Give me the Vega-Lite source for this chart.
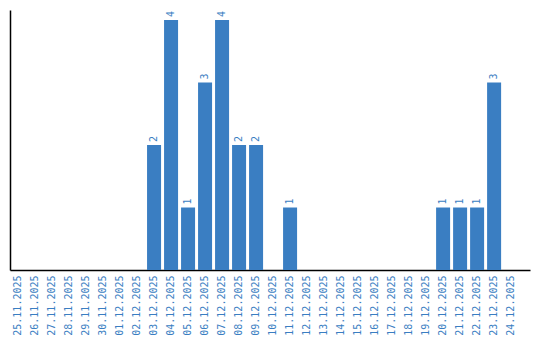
{
  "$schema": "https://vega.github.io/schema/vega-lite/v6.json",
  "autosize": {"type": "none"},
  "padding": {"left": 10, "top": 10, "right": 10, "bottom": 70},
  "width": 520,
  "height": 260,
  "background": "white",
  "data": {"values": [
    {"date": "25.11.2025", "v": 0},
    {"date": "26.11.2025", "v": 0},
    {"date": "27.11.2025", "v": 0},
    {"date": "28.11.2025", "v": 0},
    {"date": "29.11.2025", "v": 0},
    {"date": "30.11.2025", "v": 0},
    {"date": "01.12.2025", "v": 0},
    {"date": "02.12.2025", "v": 0},
    {"date": "03.12.2025", "v": 2},
    {"date": "04.12.2025", "v": 4},
    {"date": "05.12.2025", "v": 1},
    {"date": "06.12.2025", "v": 3},
    {"date": "07.12.2025", "v": 4},
    {"date": "08.12.2025", "v": 2},
    {"date": "09.12.2025", "v": 2},
    {"date": "10.12.2025", "v": 0},
    {"date": "11.12.2025", "v": 1},
    {"date": "12.12.2025", "v": 0},
    {"date": "13.12.2025", "v": 0},
    {"date": "14.12.2025", "v": 0},
    {"date": "15.12.2025", "v": 0},
    {"date": "16.12.2025", "v": 0},
    {"date": "17.12.2025", "v": 0},
    {"date": "18.12.2025", "v": 0},
    {"date": "19.12.2025", "v": 0},
    {"date": "20.12.2025", "v": 1},
    {"date": "21.12.2025", "v": 1},
    {"date": "22.12.2025", "v": 1},
    {"date": "23.12.2025", "v": 3},
    {"date": "24.12.2025", "v": 0}
  ]},
  "encoding": {
    "x": {
      "field": "date", "type": "nominal", "sort": null,
      "scale": {"paddingInner": 0.176, "paddingOuter": 0.38, "align": 0.08},
      "axis": {
        "title": null, "ticks": false, "labelAngle": 270, "labelAlign": "right", "labelBaseline": "middle",
        "labelPadding": 5, "labelFont": "DejaVu Sans Mono", "labelFontSize": 10, "labelColor": "#3a7ec2",
        "domainColor": "#000000", "domainWidth": 1.5, "grid": false
      }
    },
    "y": {
      "field": "v", "type": "quantitative",
      "scale": {"domain": [0, 4.16], "nice": false},
      "axis": {"title": null, "ticks": false, "labels": false, "grid": false, "domainColor": "#000000", "domainWidth": 1.5}
    }
  },
  "layer": [
    {"mark": {"type": "bar", "color": "#3a7ec2"}},
    {
      "transform": [{"filter": "datum.v > 0"}],
      "mark": {"type": "text", "angle": 270, "align": "left", "baseline": "middle", "dx": 3, "font": "DejaVu Sans Mono", "fontSize": 10, "color": "#3a7ec2"},
      "encoding": {"text": {"field": "v", "type": "quantitative"}}
    }
  ],
  "config": {"view": {"stroke": null}}
}
